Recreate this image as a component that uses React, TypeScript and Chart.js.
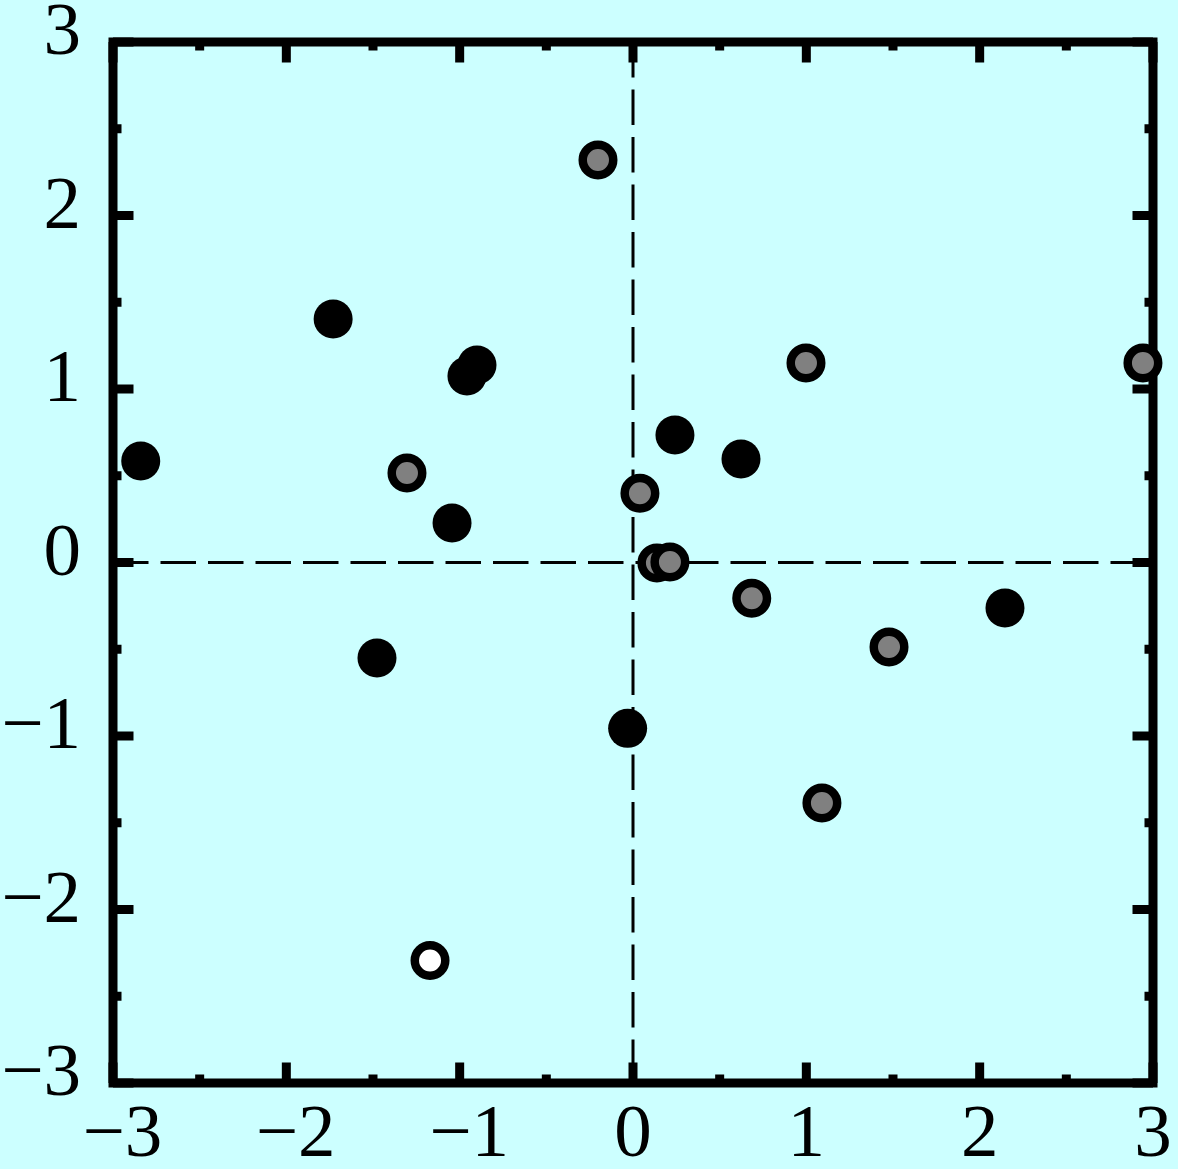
import { useEffect, useRef } from "react";
import { Chart, registerables } from "chart.js";

Chart.register(...registerables);

// Solid black markers
const solidX = [-2.84, -1.73, -0.9, -0.958, -1.044, -1.477, -0.031, 0.242, 0.623, 2.146];
const solidY = [0.585, 1.403, 1.138, 1.075, 0.228, -0.55, -0.956, 0.735, 0.597, -0.262];

// Grey-filled ringed markers
const greyX = [-0.202, -1.304, 0.04, 0.138, 0.213, 0.685, 0.998, 1.477, 1.09, 2.942];
const greyY = [2.32, 0.516, 0.399, -0.003, 0.003, -0.206, 1.15, -0.487, -1.386, 1.15];

// White-filled ringed marker
const hollowX = [-1.171];
const hollowY = [-2.294];

// Axis range and tick spacing
const axisMin = -3;
const axisMax = 3;
const majorStep = 1;
const minorStep = 0.5;

const BG = "#ccffff";
const FONT = { family: "'Liberation Serif', 'Times New Roman', serif", size: 75 };

const toPoints = (xs: number[], ys: number[]) => xs.map((x, i) => ({ x, y: ys[i] }));

const fmtY = (v: number) => (v < 0 ? "\u2212" + Math.abs(v) : String(v));
const fmtX = (v: number) => (v < 0 ? " \u2212" + Math.abs(v) : String(v));

const framePlugin = {
  id: "frame",
  beforeDraw(chart: any) {
    const { ctx, width, height } = chart;
    ctx.save();
    ctx.fillStyle = BG;
    ctx.fillRect(0, 0, width, height);
    ctx.restore();
  },
  beforeDatasetsDraw(chart: any) {
    const { ctx, chartArea: a, scales } = chart;
    const xs = scales.x;
    const ys = scales.y;
    ctx.save();
    ctx.strokeStyle = "#000";

    // dashed zero lines
    ctx.lineWidth = 3;
    ctx.setLineDash([35.5, 12]);
    const x0 = xs.getPixelForValue(0);
    const y0 = ys.getPixelForValue(0);
    ctx.beginPath();
    ctx.moveTo(x0, a.top);
    ctx.lineTo(x0, a.bottom);
    ctx.stroke();
    ctx.beginPath();
    ctx.moveTo(a.left, y0);
    ctx.lineTo(a.right, y0);
    ctx.stroke();
    ctx.setLineDash([]);

    // inward ticks on all four sides
    ctx.lineWidth = 9;
    ctx.lineCap = "butt";
    const n = Math.round((axisMax - axisMin) / minorStep);
    for (let i = 0; i <= n; i++) {
      const v = axisMin + i * minorStep;
      const major = Math.abs(v / majorStep - Math.round(v / majorStep)) < 1e-9;
      const len = major ? 20.5 : 8.5;
      const px = xs.getPixelForValue(v);
      const py = ys.getPixelForValue(v);
      ctx.beginPath();
      ctx.moveTo(px, a.bottom);
      ctx.lineTo(px, a.bottom - len);
      ctx.moveTo(px, a.top);
      ctx.lineTo(px, a.top + len);
      ctx.moveTo(a.left, py);
      ctx.lineTo(a.left + len, py);
      ctx.moveTo(a.right, py);
      ctx.lineTo(a.right - len, py);
      ctx.stroke();
    }

    // frame
    ctx.lineJoin = "miter";
    ctx.strokeRect(a.left, a.top, a.right - a.left, a.bottom - a.top);
    ctx.restore();
  },
};

export default function App() {
  const canvasRef = useRef<HTMLCanvasElement | null>(null);

  useEffect(() => {
    document.body.style.margin = "0";
    document.body.style.background = BG;
    const canvas = canvasRef.current;
    if (!canvas) return;

    const chart = new Chart(canvas, {
      type: "scatter",
      data: {
        datasets: [
          {
            data: toPoints(solidX, solidY),
            pointRadius: 19.5,
            pointBorderWidth: 0,
            pointBackgroundColor: "#000",
            pointBorderColor: "#000",
            clip: false,
          },
          {
            data: toPoints(greyX, greyY),
            pointRadius: 15.25,
            pointBorderWidth: 8.5,
            pointBackgroundColor: "#808080",
            pointBorderColor: "#000",
            clip: false,
          },
          {
            data: toPoints(hollowX, hollowY),
            pointRadius: 15.25,
            pointBorderWidth: 8.5,
            pointBackgroundColor: "#ffffff",
            pointBorderColor: "#000",
            clip: false,
          },
        ],
      },
      options: {
        responsive: false,
        animation: false,
        events: [],
        layout: { padding: { top: 42, right: 25, left: 0, bottom: 0 } },
        plugins: { legend: { display: false }, tooltip: { enabled: false } },
        scales: {
          x: {
            type: "linear",
            min: axisMin,
            max: axisMax,
            grid: { display: false, drawTicks: false },
            border: { display: false },
            ticks: {
              stepSize: majorStep,
              padding: 8,
              color: "#000",
              font: FONT,
              maxRotation: 0,
              autoSkip: false,
              callback: (v: any) => fmtX(Number(v)),
            },
            afterFit: (s: any) => {
              s.height = 86;
              s.paddingLeft = 0;
              s.paddingRight = 0;
            },
          },
          y: {
            type: "linear",
            min: axisMin,
            max: axisMax,
            grid: { display: false, drawTicks: false },
            border: { display: false },
            ticks: {
              stepSize: majorStep,
              padding: 32,
              labelOffset: -7.5,
              color: "#000",
              font: FONT,
              autoSkip: false,
              callback: (v: any) => fmtY(Number(v)),
            },
            afterFit: (s: any) => {
              s.width = 113;
              s.paddingTop = 0;
              s.paddingBottom = 0;
            },
          },
        },
      },
      plugins: [framePlugin],
    } as any);

    return () => chart.destroy();
  }, []);

  return (
    <div style={{ width: 1178, height: 1169, background: BG }}>
      <canvas ref={canvasRef} width={1178} height={1169} style={{ display: "block" }} />
    </div>
  );
}
